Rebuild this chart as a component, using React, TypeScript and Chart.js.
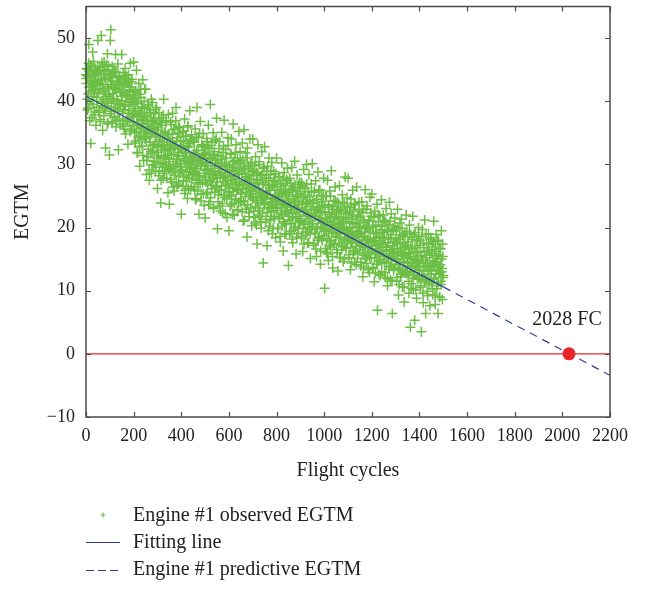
import React, { useEffect, useRef } from "react";
import { Chart, registerables } from "chart.js";

Chart.register(...registerables);

// ---- data ----
const cycleStep = 2;
// observed EGTM at even flight cycles 0, 2, 4, ... 1500
const egtmObserved = [
  44.2, 42.8, 45.1, 38.6, 43.9, 41.2, 49.0, 44.7, 36.9, 43.3, 33.3, 45.6, 40.1, 42.4, 47.8, 39.5, 44.0, 37.8, 41.7, 45.3, 43.1, 36.2, 44.8, 40.6, 42.9,
  49.6, 43.5, 38.2, 45.0, 41.8, 37.1, 44.3, 50.4, 39.7, 42.6, 35.4, 44.9, 40.3, 46.2, 38.9, 43.7, 32.6, 41.1, 45.8, 39.2, 47.5, 36.6, 42.0, 44.1, 31.5,
  40.7, 49.6, 51.3, 38.4, 43.2, 45.5, 36.8, 42.1, 39.0, 44.6, 37.5, 41.9, 47.4, 35.9, 43.8, 40.2, 38.7, 45.9, 32.3, 42.5, 39.6, 44.0, 36.3, 41.4, 43.0,
  47.4, 41.6, 38.1, 44.5, 36.0, 42.7, 39.4, 45.2, 34.8, 40.9, 43.6, 37.3, 41.0, 33.2, 44.2, 38.5, 42.2, 36.7, 46.0, 39.8, 35.5, 43.1, 40.4, 37.9, 41.5,
  46.2, 38.8, 35.2, 41.4, 33.7, 39.9, 44.9, 36.4, 31.8, 40.6, 37.6, 42.8, 34.5, 29.7, 38.3, 41.9, 35.8, 39.1, 32.9, 43.4, 36.9, 30.6, 40.0, 37.2, 34.0,
  41.9, 33.6, 28.4, 37.8, 35.1, 31.2, 39.5, 36.3, 27.5, 34.4, 38.6, 32.0, 40.3, 35.7, 29.9, 36.8, 33.0, 38.0, 30.5, 34.9, 37.3, 28.9, 35.4, 39.0, 32.7,
  26.2, 35.8, 31.4, 38.2, 29.0, 33.9, 36.6, 23.9, 32.3, 37.4, 30.1, 34.7, 27.8, 40.3, 33.1, 28.6, 35.2, 31.0, 36.9, 29.7, 34.0, 32.6, 25.5, 37.9, 30.8,
  23.7, 33.5, 29.4, 36.7, 31.6, 27.2, 34.8, 38.1, 30.0, 32.9, 25.8, 35.6, 28.7, 33.0, 39.0, 30.9, 26.6, 34.2, 31.3, 36.0, 28.1, 32.5, 35.0, 29.6, 33.8,
  22.1, 32.4, 29.0, 35.3, 27.4, 33.6, 30.6, 37.2, 25.9, 31.8, 34.5, 28.3, 32.9, 24.6, 36.1, 30.2, 27.9, 33.3, 38.5, 29.4, 31.2, 26.5, 34.0, 30.7, 28.8,
  33.7, 28.5, 31.9, 26.0, 35.6, 29.3, 24.4, 32.2, 39.0, 30.4, 27.1, 34.3, 22.1, 31.0, 28.0, 36.8, 29.9, 25.3, 33.0, 30.8, 27.6, 34.9, 31.5, 23.5, 29.1,
  21.5, 30.3, 27.2, 34.1, 29.0, 25.6, 32.7, 36.2, 28.4, 31.1, 24.1, 39.5, 29.8, 26.7, 33.5, 30.9, 27.7, 35.0, 23.0, 31.6, 28.9, 33.8, 26.3, 30.2, 37.3,
  27.9, 19.8, 31.4, 25.2, 29.7, 33.6, 23.4, 28.2, 30.8, 26.0, 35.1, 28.7, 22.3, 31.9, 27.3, 37.0, 24.8, 29.2, 32.4, 26.6, 30.0, 21.6, 28.0, 34.2, 25.7,
  19.5, 28.8, 25.1, 31.7, 27.0, 34.0, 23.7, 29.5, 26.2, 36.4, 28.1, 21.9, 30.6, 27.7, 24.5, 33.1, 29.0, 25.9, 31.0, 22.8, 28.4, 35.2, 26.8, 30.2, 24.0,
  30.5, 24.2, 28.6, 33.4, 26.1, 21.0, 29.3, 35.5, 27.4, 23.6, 31.8, 25.5, 28.0, 18.5, 32.6, 26.9, 29.8, 22.4, 27.2, 34.0, 24.9, 30.1, 26.4, 20.3, 28.9,
  34.0, 25.8, 22.6, 29.0, 26.9, 20.7, 31.2, 24.3, 27.6, 17.4, 28.5, 33.1, 23.1, 26.2, 30.4, 21.8, 25.0, 28.2, 19.9, 32.0, 24.6, 27.1, 14.4, 29.6, 23.9,
  32.8, 24.7, 21.3, 27.9, 25.4, 17.1, 29.7, 23.0, 26.6, 31.0, 20.2, 25.9, 28.4, 22.5, 24.1, 30.3, 19.0, 26.8, 23.6, 28.9, 21.7, 25.2, 27.3, 18.4, 24.4,
  31.0, 23.2, 26.5, 19.8, 24.9, 28.1, 21.4, 25.6, 17.7, 27.0, 23.8, 30.2, 22.0, 24.3, 16.3, 26.1, 28.7, 20.6, 23.5, 25.3, 18.9, 27.6, 22.7, 29.4, 24.0,
  14.0, 24.6, 21.2, 27.8, 23.3, 19.4, 25.9, 29.5, 22.4, 17.6, 26.3, 23.9, 20.0, 30.5, 24.2, 21.7, 15.8, 25.1, 28.3, 22.9, 19.0, 26.8, 23.6, 20.8, 27.2,
  25.4, 21.1, 18.6, 27.0, 23.7, 16.2, 24.8, 29.2, 20.5, 22.6, 26.2, 19.3, 23.9, 30.0, 21.8, 17.5, 25.7, 22.1, 28.4, 20.0, 24.3, 15.1, 22.9, 26.9, 19.7,
  30.1, 20.6, 23.8, 17.2, 25.6, 21.9, 19.1, 27.4, 22.7, 15.4, 24.5, 20.1, 28.8, 18.3, 23.2, 21.4, 26.0, 14.2, 22.3, 19.8, 25.0, 17.9, 23.5, 20.9, 27.8,
  18.7, 10.4, 22.5, 24.9, 19.6, 16.0, 21.2, 27.5, 20.3, 14.8, 23.4, 18.0, 25.8, 21.7, 16.9, 29.0, 19.4, 22.9, 13.6, 20.8, 24.2, 17.4, 21.5, 26.4, 18.5,
  21.8, 16.5, 24.0, 19.2, 13.1, 22.7, 18.4, 26.6, 20.4, 15.3, 23.1, 19.9, 17.2, 25.2, 21.0, 14.6, 20.7, 23.8, 18.1, 28.0, 16.8, 22.2, 19.5, 24.7, 17.8,
  27.8, 18.9, 15.7, 22.4, 20.1, 13.3, 24.5, 17.6, 21.3, 19.0, 25.9, 16.2, 22.9, 18.3, 14.5, 23.6, 20.6, 17.0, 26.4, 19.4, 15.1, 21.7, 18.7, 24.0, 20.2,
  16.4, 21.6, 13.9, 19.3, 24.1, 17.5, 12.2, 20.8, 22.9, 15.6, 18.6, 26.0, 17.0, 20.0, 14.3, 23.4, 18.1, 16.0, 21.2, 19.7, 12.9, 24.8, 17.8, 22.3, 15.2,
  25.3, 16.7, 13.5, 20.2, 18.0, 11.4, 22.6, 15.8, 19.1, 17.3, 14.2, 23.7, 6.9, 16.1, 20.9, 12.6, 18.6, 21.8, 15.0, 17.9, 24.4, 13.0, 19.6, 16.4, 22.0,
  18.3, 14.6, 21.1, 12.1, 16.9, 23.0, 15.5, 19.4, 10.8, 17.6, 20.5, 13.8, 24.0, 16.2, 11.7, 18.9, 22.2, 14.9, 6.4, 17.1, 19.9, 13.2, 15.9, 21.5, 17.8,
  14.1, 19.6, 11.5, 17.4, 22.9, 15.0, 9.3, 18.2, 13.4, 20.7, 16.1, 12.2, 21.3, 15.7, 10.6, 18.8, 14.5, 17.0, 8.2, 19.1, 13.0, 16.6, 22.0, 12.8, 15.3,
  17.2, 12.5, 15.8, 9.6, 20.4, 13.9, 4.2, 16.7, 11.1, 18.5, 14.3, 21.8, 10.2, 15.1, 12.9, 5.3, 19.2, 13.6, 16.0, 8.8, 17.9, 11.8, 14.7, 20.0, 12.0,
  13.2, 18.0, 10.5, 15.6, 3.5, 12.3, 19.7, 14.4, 8.1, 16.8, 11.6, 21.2, 13.7, 6.4, 15.2, 17.5, 9.9, 14.0, 12.6, 19.0, 10.9, 16.3, 7.6, 13.1, 18.4,
  15.9, 11.2, 17.3, 9.4, 13.8, 21.0, 12.0, 16.2, 7.8, 14.6, 18.9, 10.3, 13.3, 15.1, 6.4, 17.8, 12.7, 9.0, 16.6, 14.1, 11.5, 19.5, 13.0, 8.6, 15.4,
  12.4,
];
// observed EGTM at odd flight cycles 1, 3, 5, ... 1499
const egtmObservedOdd = [
  43.6, 45.2, 40.3, 44.1, 38.9, 46.0, 42.2, 44.9, 39.6, 45.7, 41.5, 43.0, 37.4, 44.4, 42.7, 46.3, 40.8, 43.9, 38.3, 45.0, 41.9, 44.6, 39.1, 42.5, 45.5,
  41.3, 44.7, 38.5, 42.9, 45.4, 36.8, 43.3, 40.0, 46.1, 39.3, 42.0, 44.2, 37.7, 41.6, 45.0, 38.8, 43.5, 40.7, 44.8, 36.4, 42.3, 39.9, 45.6, 41.0, 43.8,
  38.0, 42.6, 44.3, 39.7, 36.5, 41.2, 43.7, 40.4, 45.0, 37.6, 42.1, 39.0, 44.7, 41.8, 36.9, 43.1, 40.0, 38.4, 42.9, 44.0, 37.2, 41.5, 39.4, 43.4, 40.8,
  40.1, 36.3, 42.5, 38.7, 43.8, 35.6, 41.3, 39.2, 44.0, 37.0, 40.7, 42.9, 36.8, 39.9, 43.2, 38.1, 41.8, 35.2, 40.3, 42.2, 37.5, 43.5, 39.5, 36.1, 41.0,
  36.8, 40.2, 33.4, 38.5, 41.7, 35.0, 37.7, 31.9, 39.6, 34.3, 36.2, 41.1, 32.8, 38.0, 35.6, 40.6, 33.9, 37.1, 39.0, 31.4, 36.5, 34.8, 38.9, 41.9, 35.3,
  34.2, 37.5, 30.6, 36.0, 39.4, 32.4, 35.5, 29.1, 38.2, 33.5, 31.7, 36.9, 28.6, 34.8, 39.8, 32.1, 37.0, 30.0, 35.9, 33.2, 38.7, 29.6, 34.5, 31.0, 36.4,
  31.9, 35.4, 28.2, 33.6, 37.0, 30.3, 34.3, 27.5, 32.8, 36.2, 29.5, 33.0, 37.8, 31.2, 28.9, 35.0, 32.1, 30.0, 36.7, 27.8, 33.9, 31.5, 34.8, 29.2, 32.4,
  30.4, 34.1, 27.6, 32.3, 36.3, 29.0, 33.2, 26.4, 31.5, 35.5, 28.3, 32.8, 30.0, 36.9, 27.2, 33.7, 29.7, 31.9, 34.9, 26.9, 30.9, 35.8, 28.7, 32.6, 30.1,
  29.2, 33.0, 26.5, 31.4, 35.2, 28.1, 32.3, 25.4, 30.5, 34.4, 27.3, 31.8, 29.6, 35.9, 26.2, 32.7, 28.8, 30.9, 33.8, 25.9, 29.9, 34.7, 27.7, 31.1, 28.4,
  30.2, 26.4, 33.5, 28.9, 24.6, 31.6, 27.5, 34.3, 29.4, 25.8, 32.2, 28.2, 30.7, 34.9, 26.9, 31.0, 24.2, 29.7, 33.1, 27.1, 30.4, 25.3, 32.8, 28.6, 31.7,
  28.0, 31.9, 25.3, 30.2, 33.6, 26.8, 29.3, 23.6, 32.5, 27.5, 30.9, 24.7, 28.6, 33.0, 26.1, 31.4, 29.0, 23.2, 27.9, 32.0, 25.6, 30.6, 28.3, 34.0, 26.5,
  27.2, 30.7, 24.1, 29.4, 32.5, 25.9, 28.5, 22.6, 31.3, 26.6, 29.9, 23.8, 27.8, 32.9, 25.1, 30.2, 28.1, 22.2, 26.9, 31.0, 24.5, 29.1, 27.4, 33.0, 25.5,
  26.3, 29.8, 23.4, 28.2, 31.6, 25.0, 27.6, 22.1, 30.4, 25.7, 28.9, 23.9, 26.8, 31.9, 24.4, 29.3, 27.1, 22.7, 26.0, 30.1, 24.0, 28.5, 26.6, 32.0, 25.3,
  25.6, 29.0, 22.5, 27.3, 30.7, 24.2, 26.8, 21.2, 29.6, 24.9, 28.0, 22.9, 26.1, 31.0, 23.6, 28.4, 26.4, 21.7, 25.2, 29.3, 23.1, 27.7, 25.8, 30.3, 24.5,
  24.8, 28.2, 21.6, 26.5, 29.8, 23.3, 25.9, 20.4, 28.7, 24.0, 27.1, 22.0, 25.3, 30.0, 22.7, 27.5, 25.5, 20.9, 24.3, 28.4, 22.3, 26.8, 24.9, 29.4, 23.6,
  23.9, 27.4, 20.8, 25.7, 28.9, 22.4, 25.1, 19.5, 27.8, 23.2, 26.3, 21.1, 24.5, 29.0, 21.8, 26.7, 24.6, 19.9, 23.4, 27.5, 21.4, 25.9, 24.1, 28.5, 22.7,
  23.0, 26.5, 19.9, 24.8, 28.0, 21.5, 24.2, 18.6, 26.9, 22.3, 25.4, 20.2, 23.6, 27.9, 20.9, 25.8, 23.7, 19.0, 22.5, 26.6, 20.5, 25.0, 23.2, 27.4, 21.8,
  22.2, 25.6, 19.1, 23.9, 27.0, 20.6, 23.3, 18.2, 26.0, 21.5, 24.5, 19.6, 22.8, 26.8, 20.1, 24.9, 22.9, 18.5, 21.7, 25.7, 19.9, 24.1, 22.4, 26.4, 21.0,
  21.4, 24.8, 18.3, 23.1, 26.6, 19.8, 22.5, 17.4, 25.2, 20.7, 23.7, 18.8, 22.0, 26.9, 19.3, 24.0, 22.1, 17.6, 20.9, 24.9, 19.0, 23.3, 21.6, 25.6, 20.2,
  20.6, 24.0, 17.5, 22.3, 25.8, 19.0, 21.7, 16.6, 24.4, 19.9, 22.9, 18.0, 21.2, 25.9, 18.5, 23.2, 21.3, 16.3, 20.1, 24.1, 18.2, 22.5, 20.8, 25.0, 19.4,
  19.8, 23.2, 16.7, 21.5, 24.9, 18.2, 20.9, 15.8, 23.6, 19.1, 22.1, 17.2, 20.4, 25.0, 17.7, 22.4, 20.5, 15.4, 19.3, 23.3, 17.4, 21.7, 20.0, 24.2, 18.6,
  19.0, 22.4, 16.0, 20.7, 23.9, 17.5, 20.1, 15.2, 22.8, 18.4, 21.3, 16.5, 19.6, 24.0, 17.0, 21.6, 19.7, 15.0, 18.5, 22.5, 16.7, 20.9, 19.2, 23.4, 17.9,
  18.2, 21.6, 15.2, 19.9, 23.2, 16.8, 19.3, 14.4, 22.0, 17.6, 20.6, 15.8, 18.8, 23.8, 16.3, 20.8, 18.9, 14.1, 17.8, 21.8, 16.0, 20.1, 18.5, 22.6, 17.1,
  17.4, 20.8, 14.5, 19.1, 22.4, 16.0, 18.5, 13.6, 21.2, 16.8, 19.8, 15.0, 18.0, 22.9, 15.5, 20.0, 18.1, 13.3, 17.0, 21.0, 15.2, 19.3, 17.7, 21.8, 16.3,
  16.6, 20.0, 13.7, 18.3, 21.6, 15.2, 17.7, 12.8, 20.4, 16.0, 19.0, 14.2, 17.2, 22.0, 14.7, 19.2, 17.3, 12.4, 16.2, 20.2, 14.4, 18.5, 16.9, 21.0, 15.5,
  15.8, 19.2, 12.9, 17.5, 20.8, 14.4, 16.9, 11.9, 19.6, 15.2, 18.2, 13.4, 16.4, 21.0, 13.9, 18.4, 16.5, 11.5, 15.4, 19.4, 13.6, 17.7, 16.1, 20.2, 14.7,
  15.0, 18.4, 12.1, 16.7, 20.0, 13.6, 16.1, 11.0, 18.8, 14.4, 17.4, 12.6, 15.6, 19.9, 13.1, 17.6, 15.7, 10.6, 14.6, 18.6, 12.8, 16.9, 15.3, 19.4, 13.9,
  14.4, 17.7, 11.5, 16.0, 19.0, 13.0, 15.4, 10.4, 18.1, 13.8, 16.7, 12.0, 14.9, 18.9, 12.5, 16.9, 15.0, 10.1, 14.0, 17.9, 12.2, 16.2, 14.6, 18.6, 13.3,
  13.8, 17.2, 10.8, 15.4, 18.6, 12.3, 14.8, 9.6, 17.5, 13.1, 16.1, 11.3, 14.3, 18.9, 11.8, 16.3, 14.4, 9.2, 13.4, 17.4, 11.5, 15.6, 14.0, 18.1, 12.6,
  13.2, 16.5, 10.3, 14.8, 17.8, 11.8, 14.2, 9.3, 16.9, 12.6, 15.5, 10.8, 13.7, 18.0, 11.3, 15.7, 13.8, 9.0, 12.9, 16.7, 11.0, 15.0, 13.5, 17.4, 12.1,
];

const fitCycles = [0, 1500];
const fitEgtm = [40.8, 10.6];
const predCycles = [1500, 2200];
const predEgtm = [10.6, -3.4];
const thresholdCycles = [0, 2200];
const thresholdEgtm = [0, 0];
const failureCycles = [2028];
const failureEgtm = [0];
const failureLabel = "2028 FC";

const xRange = [0, 2200];
const xStep = 200;
const yRange = [-10, 55];
const yStep = 10;

const xTitle = "Flight cycles";
const yTitle = "EGTM";
const legendLabels = ["Engine #1 observed EGTM", "Fitting line", "Engine #1 predictive EGTM"];

// ---- styles ----
const SERIF = '"Liberation Serif", "Times New Roman", serif';
const GREEN = "#6cbf45";
const BLUE = "#2f3c9c";
const RED = "#e8262a";
const AXIS = "#4a4a4a";
const TEXT = "#222222";

const pairs = (xs: number[], ys: number[]) => xs.map((x, i) => ({ x, y: ys[i] }));

const fmt = (v: number | string) => String(v).replace("-", "\u2212");

const overlayPlugin = {
  id: "overlay",
  afterDatasetsDraw(chart: any) {
    const { ctx, chartArea: a, scales } = chart;
    const xs = scales.x;
    const ys = scales.y;
    ctx.save();
    // frame
    ctx.strokeStyle = AXIS;
    ctx.lineWidth = 1.5;
    ctx.strokeRect(a.left, a.top, a.right - a.left, a.bottom - a.top);
    // inward ticks
    const L = 5;
    ctx.lineWidth = 1.2;
    ctx.beginPath();
    xs.ticks.forEach((t: any) => {
      const px = Math.round(xs.getPixelForValue(t.value)) + 0.5;
      ctx.moveTo(px, a.bottom);
      ctx.lineTo(px, a.bottom - L);
      ctx.moveTo(px, a.top);
      ctx.lineTo(px, a.top + L);
    });
    ys.ticks.forEach((t: any) => {
      const py = Math.round(ys.getPixelForValue(t.value)) + 0.5;
      ctx.moveTo(a.left, py);
      ctx.lineTo(a.left + L, py);
      ctx.moveTo(a.right, py);
      ctx.lineTo(a.right - L, py);
    });
    ctx.stroke();
    // failure annotation
    ctx.fillStyle = TEXT;
    ctx.font = `20px ${SERIF}`;
    ctx.textAlign = "center";
    ctx.textBaseline = "middle";
    ctx.fillText(
      failureLabel,
      xs.getPixelForValue(failureCycles[0]) - 2,
      ys.getPixelForValue(failureEgtm[0]) - 34
    );
    ctx.restore();
  },
  afterDraw(chart: any) {
    const { ctx } = chart;
    ctx.save();
    const rows = [516, 543, 570];
    const textX = 133;
    // observed marker
    ctx.strokeStyle = GREEN;
    ctx.lineWidth = 1.2;
    ctx.beginPath();
    ctx.moveTo(100.5, 515);
    ctx.lineTo(105.5, 515);
    ctx.moveTo(103, 512.5);
    ctx.lineTo(103, 517.5);
    ctx.stroke();
    // fitting line
    ctx.strokeStyle = BLUE;
    ctx.lineWidth = 1.2;
    ctx.beginPath();
    ctx.moveTo(86, 542.5);
    ctx.lineTo(120, 542.5);
    ctx.stroke();
    // predictive
    ctx.setLineDash([8, 4]);
    ctx.beginPath();
    ctx.moveTo(86, 570.5);
    ctx.lineTo(120, 570.5);
    ctx.stroke();
    ctx.setLineDash([]);
    ctx.fillStyle = TEXT;
    ctx.font = `20px ${SERIF}`;
    ctx.textAlign = "left";
    ctx.textBaseline = "middle";
    legendLabels.forEach((t, i) => ctx.fillText(t, textX, rows[i]));
    ctx.restore();
  },
};

export default function App() {
  const ref = useRef<HTMLCanvasElement>(null);
  useEffect(() => {
    document.body.style.margin = "0";
    const observed = [
      ...egtmObserved.map((y, i) => ({ x: i * cycleStep, y })),
      ...egtmObservedOdd.map((y, i) => ({ x: i * cycleStep + 1, y })),
    ];
    const chart = new Chart(ref.current as HTMLCanvasElement, {
      type: "scatter",
      data: {
        datasets: [
          {
            label: legendLabels[0],
            data: observed,
            pointStyle: "cross",
            pointRadius: 5,
            pointBorderWidth: 1.5,
            borderColor: GREEN,
            backgroundColor: GREEN,
            showLine: false,
            clip: false,
            order: 3,
          } as any,
          {
            label: legendLabels[1],
            data: pairs(fitCycles, fitEgtm),
            showLine: true,
            borderColor: BLUE,
            borderWidth: 1.2,
            pointRadius: 0,
            order: 1,
          },
          {
            label: legendLabels[2],
            data: pairs(predCycles, predEgtm),
            showLine: true,
            borderColor: BLUE,
            borderWidth: 1.2,
            borderDash: [8, 6],
            pointRadius: 0,
            order: 2,
          },
          {
            label: "threshold",
            data: pairs(thresholdCycles, thresholdEgtm),
            showLine: true,
            borderColor: RED,
            borderWidth: 1.2,
            pointRadius: 0,
            order: 4,
          },
          {
            label: "failure",
            data: pairs(failureCycles, failureEgtm),
            showLine: false,
            pointRadius: 6.5,
            pointBorderWidth: 0,
            backgroundColor: RED,
            borderColor: RED,
            clip: false,
            order: 0,
          } as any,
        ],
      },
      options: {
        responsive: false,
        animation: false,
        events: [],
        layout: { padding: { left: 0, top: 3, right: 37, bottom: 108 } },
        plugins: {
          legend: { display: false },
          tooltip: { enabled: false },
        },
        scales: {
          x: {
            type: "linear",
            position: "bottom",
            min: xRange[0],
            max: xRange[1],
            grid: { display: false, drawTicks: false },
            border: { display: false },
            ticks: {
              stepSize: xStep,
              padding: 8,
              maxRotation: 0,
              autoSkip: false,
              color: TEXT,
              font: { family: SERIF, size: 18 },
              callback: (v: any) => fmt(v),
            },
            title: {
              display: true,
              text: xTitle,
              color: TEXT,
              font: { family: SERIF, size: 20 },
              padding: { top: 0, bottom: 0 },
            },
            afterFit: (s: any) => {
              s.height = 66;
              s.paddingLeft = 0;
              s.paddingRight = 0;
            },
          },
          y: {
            type: "linear",
            min: yRange[0],
            max: yRange[1],
            grid: { display: false, drawTicks: false },
            border: { display: false },
            ticks: {
              stepSize: yStep,
              includeBounds: false,
              padding: 11,
              color: TEXT,
              font: { family: SERIF, size: 18 },
              callback: (v: any) => fmt(v),
            },
            title: {
              display: true,
              text: yTitle,
              color: TEXT,
              font: { family: SERIF, size: 20 },
              padding: { top: 11, bottom: 0 },
            },
            afterFit: (s: any) => {
              s.width = 86;
              s.paddingTop = 0;
              s.paddingBottom = 0;
            },
          },
        },
      },
      plugins: [overlayPlugin],
    });
    return () => chart.destroy();
  }, []);
  return (
    <div style={{ width: 647, height: 591 }}>
      <canvas ref={ref} width={647} height={591} style={{ display: "block" }} />
    </div>
  );
}
